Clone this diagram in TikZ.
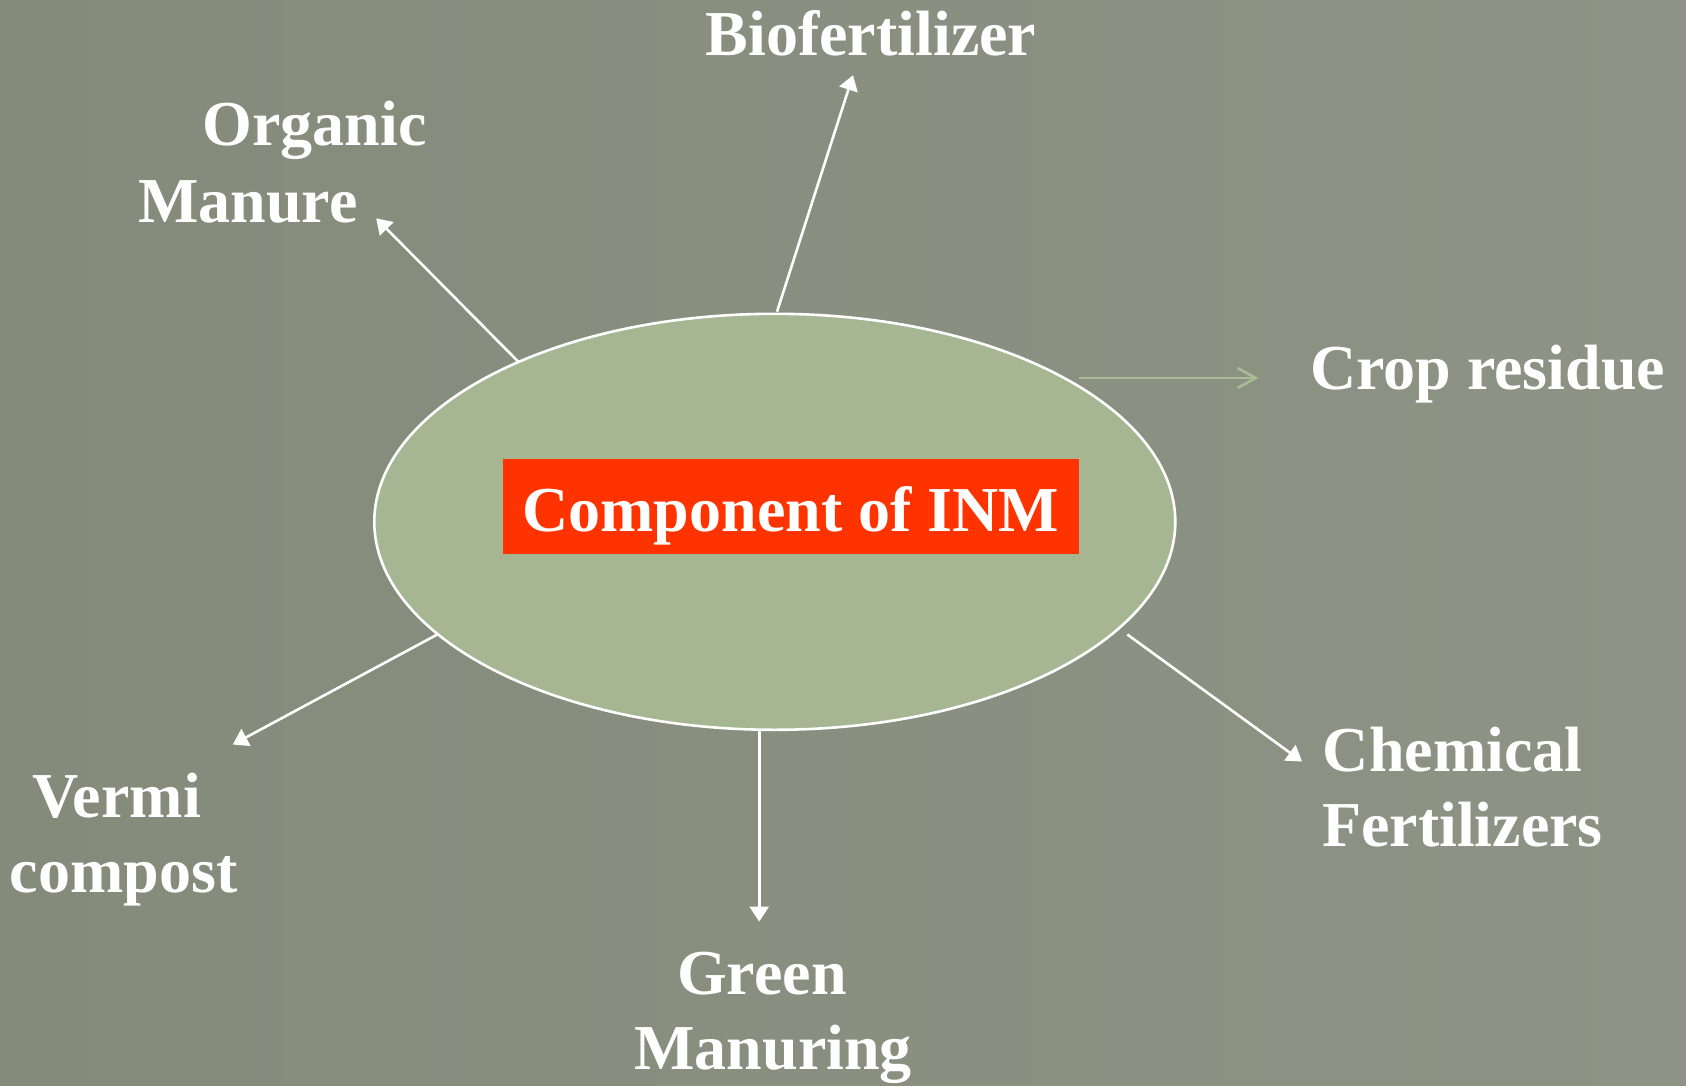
\documentclass[tikz,border=0pt]{standalone}
\usepackage{fontspec}
\setmainfont{Liberation Serif}
\usetikzlibrary{shapes.geometric,arrows.meta}
\definecolor{bgleft}{HTML}{858B7B}
\definecolor{bgright}{HTML}{8E9485}
\definecolor{ellfill}{HTML}{A6B592}
\definecolor{boxred}{HTML}{FF3300}
\definecolor{paleline}{HTML}{A9BC95}
\begin{document}
\begin{tikzpicture}[x=0.5pt,y=-0.5pt,
  lbl/.style={text=white,font=\fontsize{32}{38}\selectfont\bfseries,inner sep=0pt,anchor=base},
  spoke/.style={draw=white,line width=1.3pt,-{Triangle[width=9.5pt,length=7.5pt]}},
  palespoke/.style={draw=paleline,line width=1.3pt,-{Straight Barb[width=10pt,length=9pt,line width=1.3pt]}}]
  % backdrop
  \useasboundingbox (0,0) rectangle (1686,1086);
  \shade[left color=bgleft,right color=bgright] (0,0) rectangle (1686,1086);

  % central ellipse and title box
  \node[ellipse,draw=white,line width=1.3pt,fill=ellfill,inner sep=0pt,
        minimum width=400.5pt,minimum height=208pt] (core) at (774.8,521.8) {};
  \node[fill=boxred,text=white,font=\fontsize{32}{38}\selectfont\bfseries,inner sep=0pt,
        minimum width=287.6pt,minimum height=47.3pt,text height=25pt,text depth=0pt]
        (title) at (790.9,506.5) {Component of INM};

  % component labels
  \node[lbl] (bio) at (871,55.9) {Biofertilizer};
  \node[lbl] (org1) at (314.5,145.2) {Organic};
  \node[lbl] (org2) at (247.9,222.6) {Manure};
  \node[lbl] (crop) at (1487.7,389.3) {Crop residue};
  \node[lbl] (chem1) at (1452.7,771) {Chemical};
  \node[lbl] (chem2) at (1462.4,846.3) {Fertilizers};
  \node[lbl] (green1) at (761.9,994.7) {Green};
  \node[lbl] (green2) at (773.1,1069.9) {Manuring};
  \node[lbl] (verm1) at (116.7,817.2) {Vermi};
  \node[lbl] (verm2) at (123.7,892.5) {compost};

  % spoke end points
  \coordinate (sOrg) at (518.3,361.7);  \coordinate (tOrg) at (376.2,218.3);
  \coordinate (sBio) at (777,311.7);    \coordinate (tBio) at (853,75.2);
  \coordinate (sCrop) at (1079.3,378);  \coordinate (tCrop) at (1258.3,378);
  \coordinate (sChem) at (1127.3,634.5);\coordinate (tChem) at (1302,761.5);
  \coordinate (sGreen) at (759.2,730);  \coordinate (tGreen) at (759.2,921.6);
  \coordinate (sVerm) at (437.5,634.4); \coordinate (tVerm) at (232.8,744.5);

  % spokes
  \draw[spoke] (sOrg) -- (tOrg);
  \draw[spoke] (sBio) -- (tBio);
  \draw[palespoke] (sCrop) -- (tCrop);
  \draw[spoke] (sChem) -- (tChem);
  \draw[spoke] (sGreen) -- (tGreen);
  \draw[spoke] (sVerm) -- (tVerm);
\end{tikzpicture}
\end{document}
